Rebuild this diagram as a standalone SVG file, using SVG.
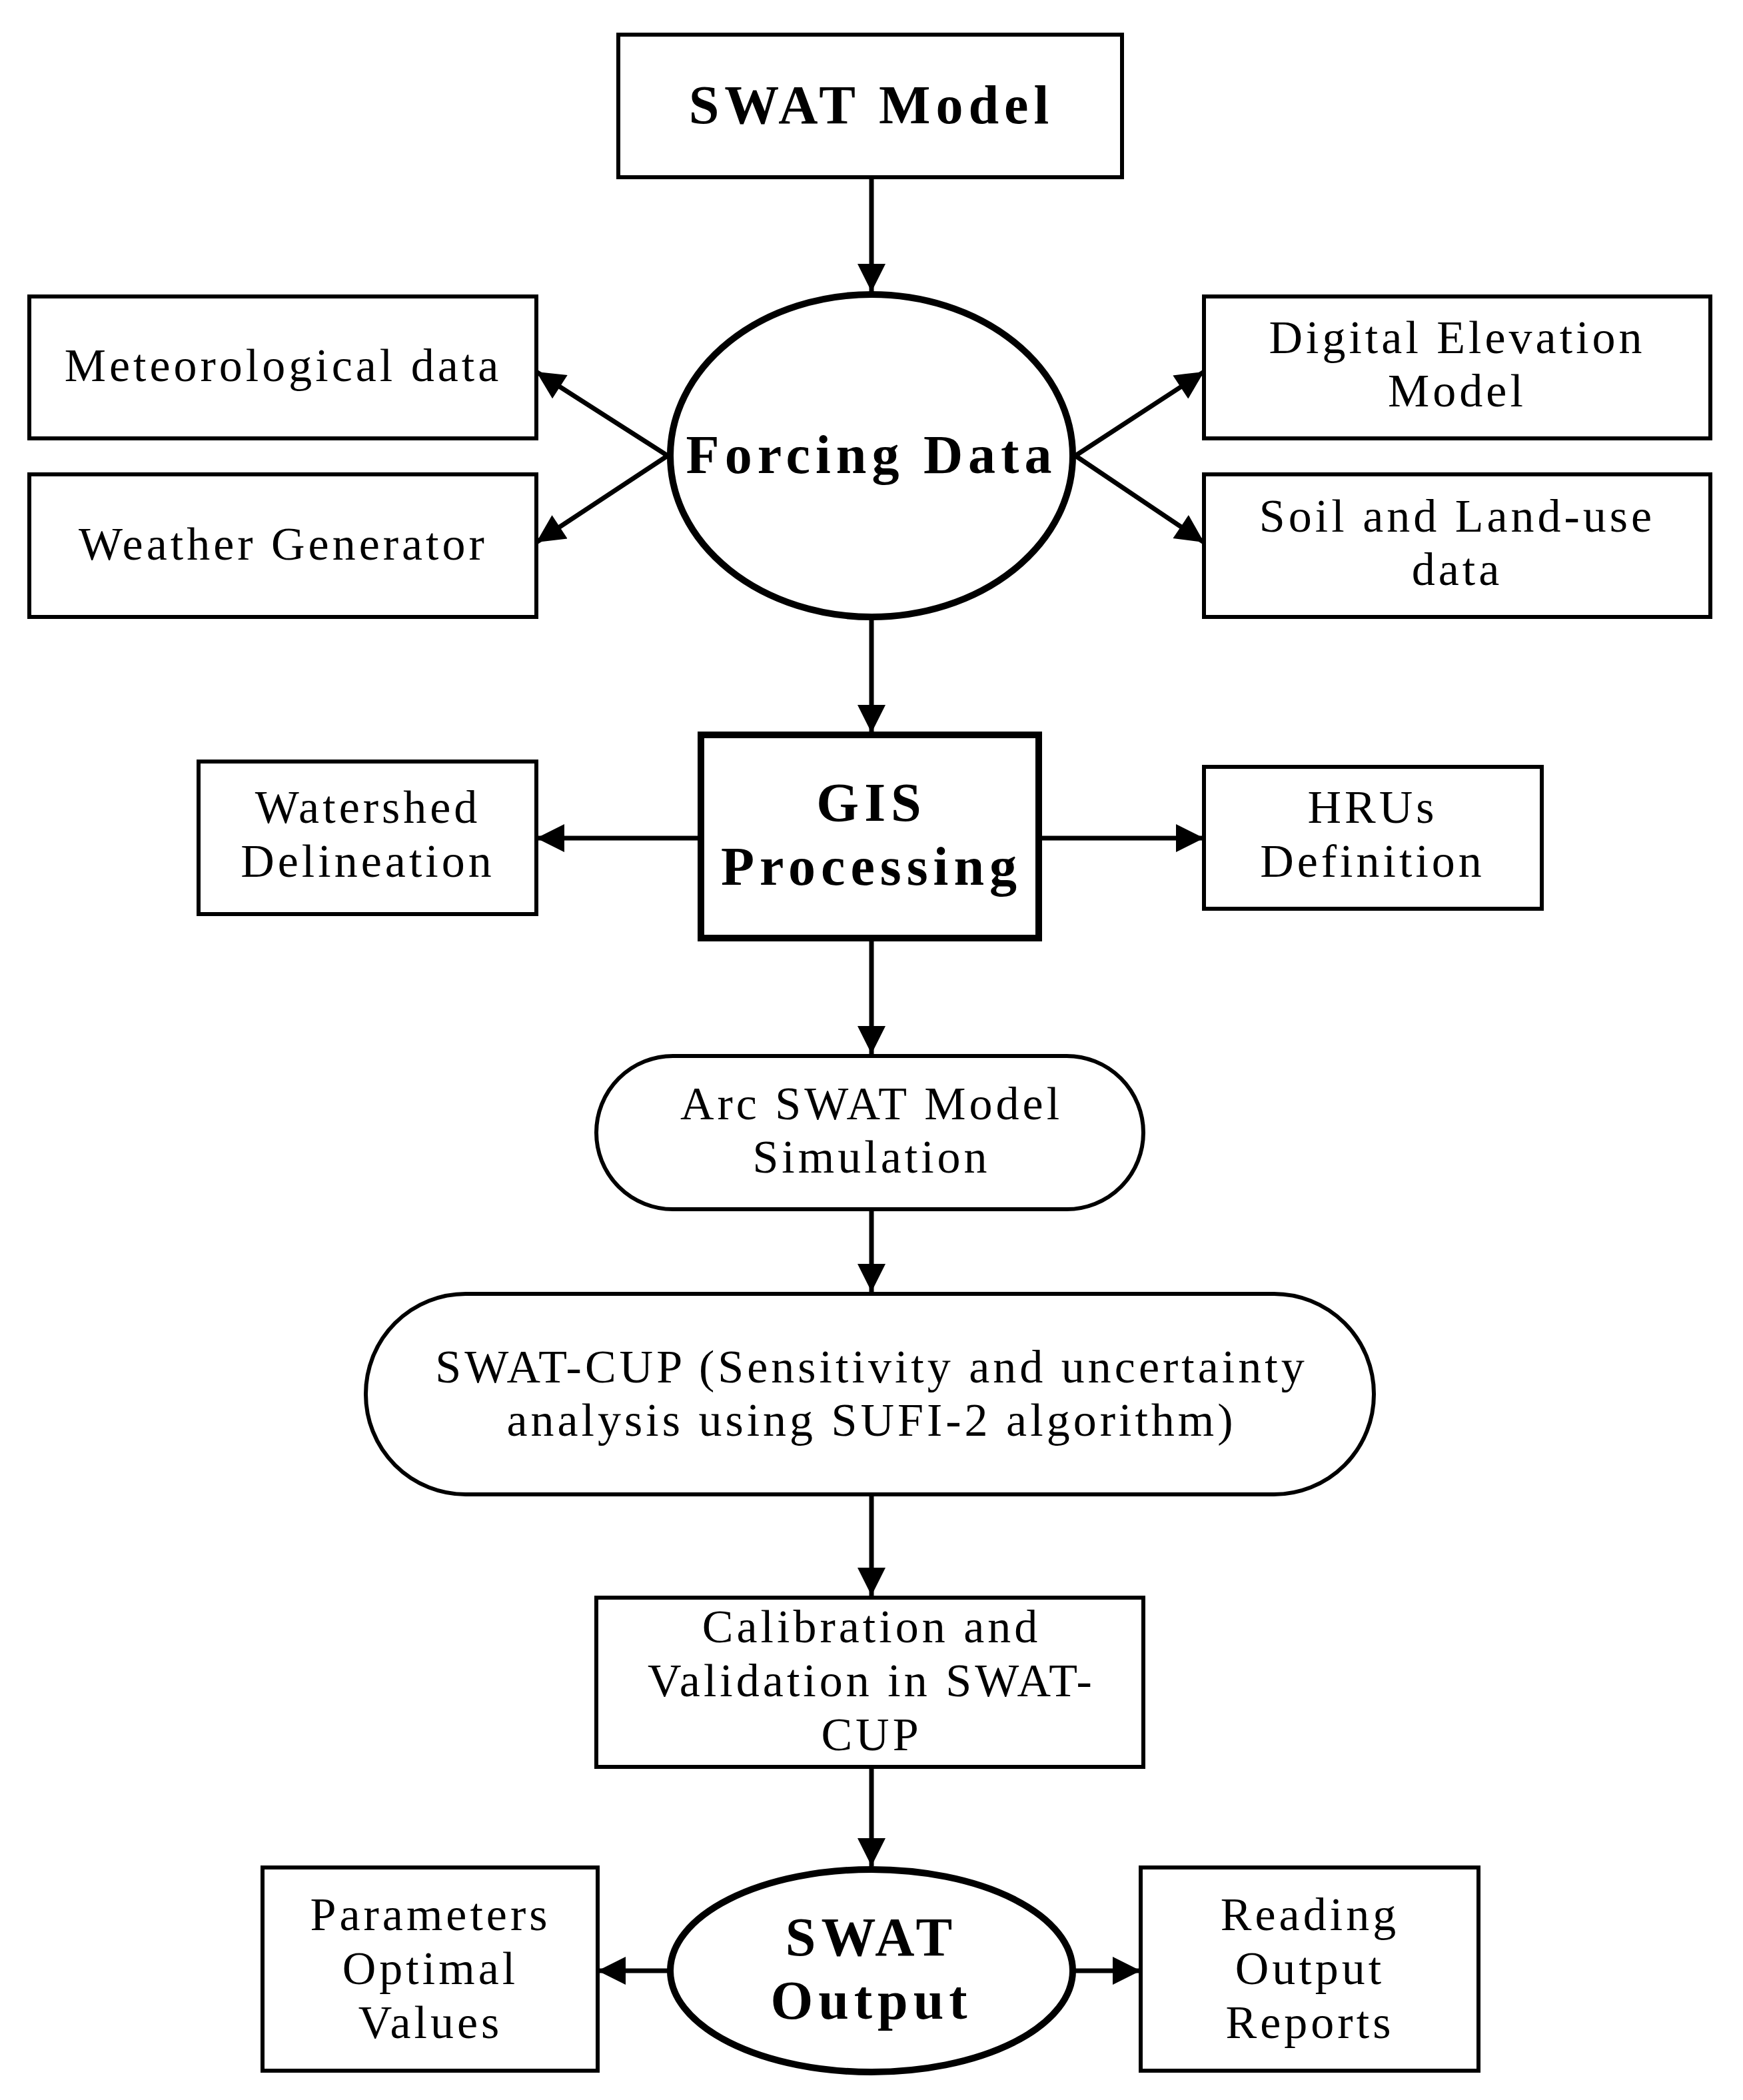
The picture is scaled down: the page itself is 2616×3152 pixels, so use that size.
<svg xmlns="http://www.w3.org/2000/svg" width="2616" height="3152" viewBox="0 0 2616 3152">
<style>
.b{fill:#fff;stroke:#000;stroke-width:6}
.k{fill:#fff;stroke:#000;stroke-width:10}
.t{font-family:"Liberation Serif",serif;font-size:70px;letter-spacing:5px;text-anchor:middle;fill:#000}
.h{font-family:"Liberation Serif",serif;font-size:82px;letter-spacing:8px;font-weight:bold;text-anchor:middle;fill:#000}
.c{stroke:#000;stroke-width:7;fill:none;marker-end:url(#a)}
</style>
<defs><marker id="a" viewBox="0 0 10 10" refX="10" refY="5" markerWidth="7" markerHeight="6" markerUnits="strokeWidth" orient="auto"><path d="M0,0L10,5L0,10z" fill="#000"/></marker></defs>
<rect width="2616" height="3152" fill="#fff"/>
<g id="connectors">
<line class="c" x1="1308" y1="266" x2="1308" y2="438"/>
<line class="c" x1="1002" y1="684" x2="805" y2="558"/>
<line class="c" x1="1002" y1="684" x2="805" y2="814"/>
<line class="c" x1="1614" y1="684" x2="1807" y2="558"/>
<line class="c" x1="1614" y1="684" x2="1807" y2="814"/>
<line class="c" x1="1308" y1="926" x2="1308" y2="1100"/>
<line class="c" x1="1052" y1="1258" x2="805" y2="1258"/>
<line class="c" x1="1559" y1="1258" x2="1807" y2="1258"/>
<line class="c" x1="1308" y1="1408" x2="1308" y2="1582"/>
<line class="c" x1="1308" y1="1815" x2="1308" y2="1939"/>
<line class="c" x1="1308" y1="2243" x2="1308" y2="2395"/>
<line class="c" x1="1308" y1="2652" x2="1308" y2="2801"/>
<line class="c" x1="1004" y1="2958" x2="897" y2="2958"/>
<line class="c" x1="1612" y1="2958" x2="1712" y2="2958"/>
</g>
<g id="swat-model"><rect class="b" x="928" y="52" width="756" height="214"/><text class="h" x="1308" y="185">SWAT Model</text></g>
<g id="forcing"><ellipse class="k" cx="1308" cy="684" rx="302" ry="242"/><text class="h" x="1308" y="710">Forcing Data</text></g>
<g id="met"><rect class="b" x="44" y="445" width="761" height="213"/><text class="t" x="425" y="572">Meteorological data</text></g>
<g id="wg"><rect class="b" x="44" y="712" width="761" height="214"/><text class="t" x="425" y="840">Weather Generator</text></g>
<g id="dem"><rect class="b" x="1807" y="445" width="760" height="213"/><text class="t" x="2187" y="530">Digital Elevation</text><text class="t" x="2187" y="610">Model</text></g>
<g id="soil"><rect class="b" x="1807" y="712" width="760" height="214"/><text class="t" x="2187" y="798">Soil and Land-use</text><text class="t" x="2187" y="878">data</text></g>
<g id="gis"><rect class="k" x="1052" y="1103" width="507" height="305"/><text class="h" x="1308" y="1232">GIS</text><text class="h" x="1308" y="1328">Processing</text></g>
<g id="ws"><rect class="b" x="298" y="1143" width="507" height="229"/><text class="t" x="552" y="1235">Watershed</text><text class="t" x="552" y="1316">Delineation</text></g>
<g id="hru"><rect class="b" x="1807" y="1151" width="507" height="213"/><text class="t" x="2060" y="1235">HRUs</text><text class="t" x="2060" y="1316">Definition</text></g>
<g id="arc"><rect class="b" x="895" y="1585" width="821" height="230" rx="115"/><text class="t" x="1308" y="1680">Arc SWAT Model</text><text class="t" x="1308" y="1760">Simulation</text></g>
<g id="cup"><rect class="b" x="549" y="1942" width="1513" height="301" rx="150"/><text class="t" x="1308" y="2075">SWAT-CUP (Sensitivity and uncertainty</text><text class="t" x="1308" y="2155">analysis using SUFI-2 algorithm)</text></g>
<g id="cal"><rect class="b" x="895" y="2398" width="821" height="254"/><text class="t" x="1308" y="2465">Calibration and</text><text class="t" x="1308" y="2546">Validation in SWAT-</text><text class="t" x="1308" y="2627">CUP</text></g>
<g id="out"><ellipse class="k" cx="1308" cy="2958" rx="302" ry="152"/><text class="h" x="1308" y="2935">SWAT</text><text class="h" x="1308" y="3030">Output</text></g>
<g id="par"><rect class="b" x="394" y="2803" width="503" height="305"/><text class="t" x="646" y="2897">Parameters</text><text class="t" x="646" y="2978">Optimal</text><text class="t" x="646" y="3059">Values</text></g>
<g id="read"><rect class="b" x="1712" y="2803" width="507" height="305"/><text class="t" x="1966" y="2897">Reading</text><text class="t" x="1966" y="2978">Output</text><text class="t" x="1966" y="3059">Reports</text></g>
</svg>
